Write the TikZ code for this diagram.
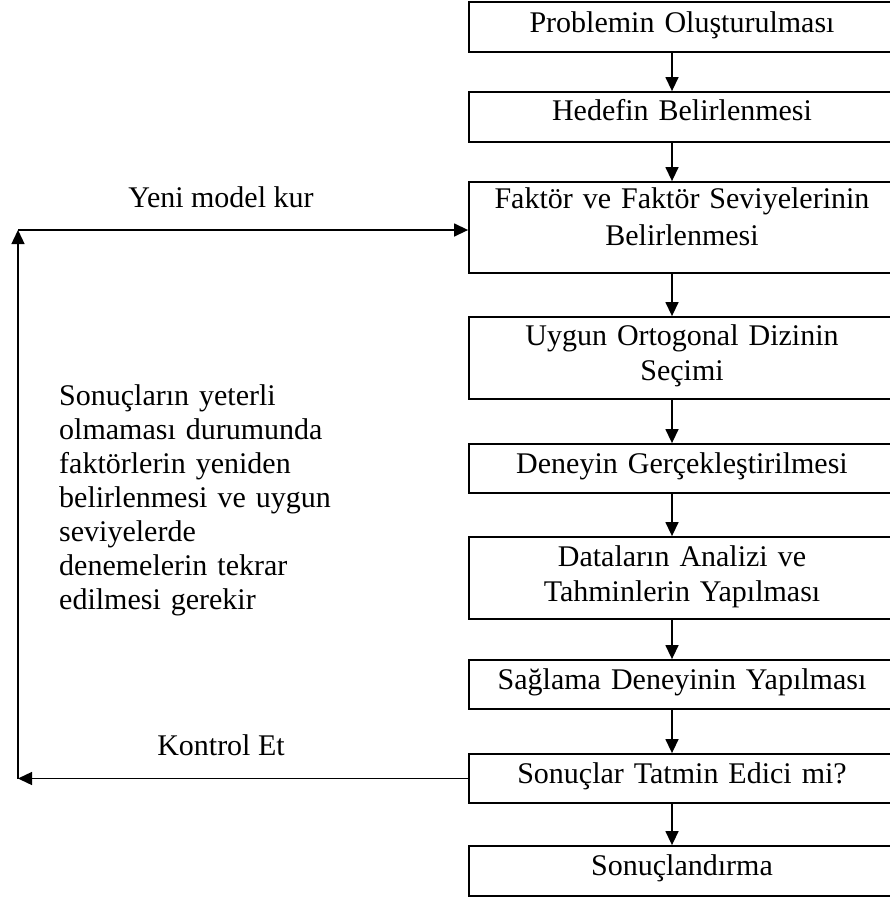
\documentclass[tikz,border=0pt]{standalone}
\usepackage{fontspec}
\setmainfont{Liberation Serif}
\usetikzlibrary{arrows.meta}
\begin{document}
\begin{tikzpicture}[x=1pt,y=-1pt,
  boxframe/.style={draw, line width=1.8pt, minimum width=426pt, inner sep=0pt},
  boxtext/.style={font=\fontsize{30}{35}\selectfont, text width=420pt, align=center, anchor=base, inner sep=0pt},
  notetext/.style={font=\fontsize{30}{34}\selectfont, text width=320pt, align=left, anchor=base west, inner sep=0pt},
  looplabel/.style={font=\fontsize{30}{35}\selectfont, anchor=base, inner sep=0pt},
  arr/.style={line width=1.4pt, -{Triangle[length=14pt,width=13pt]}}]
\useasboundingbox (0,0) rectangle (890,898);
\clip (0,0) rectangle (890,898);
% boxes
\node[boxframe, minimum height=50pt] (b1) at (682,27) {};
\node[boxframe, minimum height=50pt] (b2) at (682,117) {};
\node[boxframe, minimum height=91pt] (b3) at (682,227.5) {};
\node[boxframe, minimum height=82pt] (b4) at (682,358) {};
\node[boxframe, minimum height=49pt] (b5) at (682,468.5) {};
\node[boxframe, minimum height=82pt] (b6) at (682,578) {};
\node[boxframe, minimum height=49pt] (b7) at (682,684.5) {};
\node[boxframe, minimum height=49pt] (b8) at (682,778.5) {};
\node[boxframe, minimum height=50pt] (b9) at (682,871) {};
% box texts
\node[boxtext] (t1) at (682,32) {Problemin Oluşturulması};
\node[boxtext] (t2) at (682,120) {Hedefin Belirlenmesi};
\node[boxtext] (t3) at (682,208) {Faktör ve Faktör Seviyelerinin\\[2pt]Belirlenmesi};
\node[boxtext] (t4) at (682,345) {Uygun Ortogonal Dizinin\\Seçimi};
\node[boxtext] (t5) at (682,473) {Deneyin Gerçekleştirilmesi};
\node[boxtext] (t6) at (682,566) {Dataların Analizi ve\\Tahminlerin Yapılması};
\node[boxtext] (t7) at (682,689) {Sağlama Deneyinin Yapılması};
\node[boxtext] (t8) at (682,783) {Sonuçlar Tatmin Edici mi?};
\node[boxtext] (t9) at (682,875) {Sonuçlandırma};
% vertical arrows
\coordinate (ax) at (672,0);
\draw[arr] (b1.south -| ax) -- (b2.north -| ax);
\draw[arr] (b2.south -| ax) -- (b3.north -| ax);
\draw[arr] (b3.south -| ax) -- (b4.north -| ax);
\draw[arr] (b4.south -| ax) -- (b5.north -| ax);
\draw[arr] (b5.south -| ax) -- (b6.north -| ax);
\draw[arr] (b6.south -| ax) -- (b7.north -| ax);
\draw[arr] (b7.south -| ax) -- (b8.north -| ax);
\draw[arr] (b8.south -| ax) -- (b9.north -| ax);
% feedback loop
\coordinate (bl) at (18,778.5);
\coordinate (tl) at (18,230);
\draw[arr] (b8.west) -- (bl);
\draw[arr] (bl) -- (tl);
\draw[arr] (tl) -- (tl -| b3.west);
\node[looplabel] (ly) at (221,207) {Yeni model kur};
\node[looplabel] (lk) at (221,755) {Kontrol Et};
% note
\node[notetext] (note) at (59,405) {Sonuçların yeterli\\olmaması durumunda\\faktörlerin yeniden\\belirlenmesi ve uygun\\seviyelerde\\denemelerin tekrar\\edilmesi gerekir};
\end{tikzpicture}
\end{document}
